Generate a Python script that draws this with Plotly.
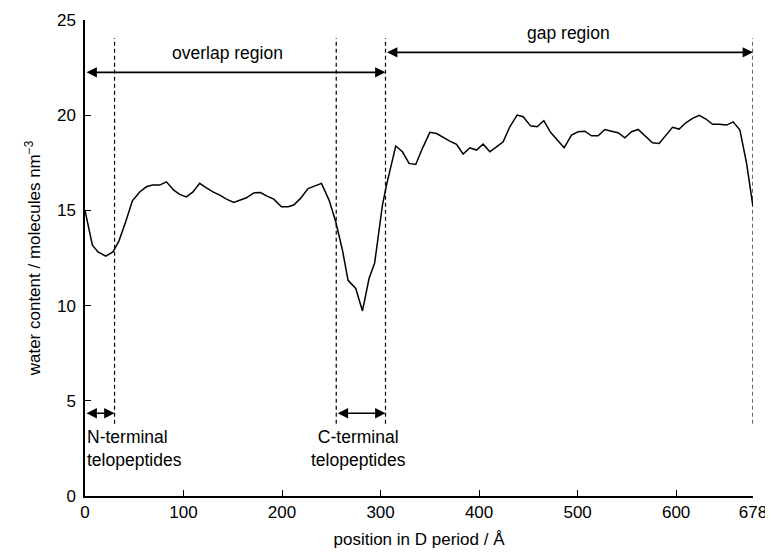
import plotly.graph_objects as go

# Water content profile along the D period
position = [0.0, 7.5, 13.2, 21.0, 28.4, 34.5, 41.3, 48.1, 55.5, 62.3, 68.4, 75.8, 82.6, 90.1,
            96.1, 102.9, 109.6, 116.4, 123.2, 129.9, 136.8, 143.6, 151.0, 157.1, 163.9, 171.3,
            178.1, 184.8, 191.6, 199.4, 206.1, 211.9, 218.7, 226.4, 233.2, 240.0, 247.7, 254.5,
            261.3, 267.0, 274.8, 281.6, 288.3, 294.0, 301.9, 306.0, 315.4, 322.2, 328.9, 335.7,
            342.5, 350.0, 356.8, 363.5, 370.3, 377.1, 383.8, 390.6, 397.4, 404.1, 410.9, 417.7,
            424.4, 431.2, 438.6, 444.7, 452.2, 458.9, 465.7, 472.5, 479.6, 486.3, 493.8, 500.5,
            507.3, 514.1, 520.8, 527.6, 534.4, 541.1, 547.9, 554.7, 561.4, 568.2, 576.0, 582.7,
            589.5, 596.3, 603.0, 609.8, 616.6, 623.4, 630.2, 637.0, 643.7, 651.2, 657.9, 664.7,
            671.5, 678.0]
water = [15.0, 13.17, 12.82, 12.60, 12.82, 13.40, 14.40, 15.50, 15.97, 16.24, 16.33, 16.33, 16.50,
         16.06, 15.84, 15.71, 15.97, 16.42, 16.18, 15.97, 15.80, 15.59, 15.42, 15.54, 15.66, 15.92,
         15.94, 15.75, 15.59, 15.19, 15.19, 15.28, 15.63, 16.15, 16.27, 16.42, 15.54, 14.40, 12.91,
         11.33, 10.90, 9.72, 11.42, 12.24, 15.28, 16.33, 18.38, 18.08, 17.47, 17.41, 18.26, 19.10,
         19.04, 18.83, 18.64, 18.47, 17.96, 18.29, 18.17, 18.48, 18.08, 18.34, 18.60, 19.39, 20.01,
         19.92, 19.44, 19.39, 19.71, 19.10, 18.69, 18.29, 18.95, 19.13, 19.16, 18.92, 18.92, 19.25,
         19.16, 19.08, 18.81, 19.13, 19.25, 18.90, 18.55, 18.52, 18.95, 19.36, 19.27, 19.60, 19.83,
         19.99, 19.80, 19.52, 19.53, 19.48, 19.65, 19.22, 17.47, 15.2]

# Region boundaries (Å)
boundaries = [30, 255, 305, 678]
boundary_bottom = 3.8
boundary_top = 24.05

x_ticks = [0, 100, 200, 300, 400, 500, 600, 678]
x_tick_labels = ["0", "100", "200", "300", "400", "500", "600", "678"]
y_ticks = [0, 5, 10, 15, 20, 25]

# Region arrows: (start, end, level)
overlap_arrow = (0, 305, 22.25)
gap_arrow = (305, 678, 23.3)
n_term_arrow = (0, 30, 4.35)
c_term_arrow = (255, 305, 4.35)

FONT = "Liberation Sans, Arial, sans-serif"

fig = go.Figure()
fig.add_trace(go.Scatter(x=position, y=water, mode="lines",
                         line=dict(color="black", width=1.5),
                         showlegend=False, hoverinfo="skip", cliponaxis=False))

for b in boundaries:
    fig.add_shape(type="line", xref="x", yref="y", x0=b, x1=b,
                  y0=boundary_bottom, y1=boundary_top,
                  line=dict(color="black", width=1.2, dash="4px,3px"))

def double_arrow(a):
    x0, x1, yv = a
    fig.add_annotation(x=x1, y=yv, ax=x0, ay=yv, xref="x", yref="y",
                       axref="x", ayref="y", text="", showarrow=True,
                       arrowhead=2, startarrowhead=2, arrowside="end+start",
                       arrowsize=1.3, startarrowsize=1.3, arrowwidth=1.6,
                       arrowcolor="black", standoff=0, startstandoff=0)

for a in (overlap_arrow, gap_arrow, n_term_arrow, c_term_arrow):
    double_arrow(a)

txt = dict(family=FONT, size=17.5, color="black")
fig.add_annotation(x=145, y=23.25, xref="x", yref="y", text="overlap region",
                   showarrow=False, font=txt)
fig.add_annotation(x=491, y=24.3, xref="x", yref="y", text="gap region",
                   showarrow=False, font=txt)
fig.add_annotation(x=0.5, y=2.5, xref="x", yref="y", text="N-terminal<br>telopeptides",
                   showarrow=False, font=txt, xanchor="left", align="left")
fig.add_annotation(x=278, y=2.5, xref="x", yref="y", text="C-terminal<br>telopeptides",
                   showarrow=False, font=txt, xanchor="center", align="center")

# The page body has an 8px default margin, so the figure is sized/offset to
# leave the plot area where it sits in the 773x553 view.
fig.update_layout(
    width=765, height=545,
    margin=dict(l=77, r=20, t=12, b=57),
    paper_bgcolor="white", plot_bgcolor="white",
    font=dict(family=FONT, size=17, color="black"),
    showlegend=False,
)
fig.update_xaxes(range=[0, 678], tickvals=x_ticks, ticktext=x_tick_labels,
                 ticks="inside", ticklen=6, tickwidth=1.2, tickcolor="black",
                 showline=True, linecolor="black", linewidth=1.5,
                 showgrid=False, zeroline=False, automargin=False,
                 title=dict(text="position in D period / Å", standoff=12,
                            font=dict(family=FONT, size=17)))
fig.update_yaxes(range=[0, 25], tickvals=y_ticks,
                 ticks="inside", ticklen=6, tickwidth=1.2, tickcolor="black",
                 ticklabelstandoff=4,
                 showline=True, linecolor="black", linewidth=1.5,
                 showgrid=False, zeroline=False, automargin=False,
                 title=dict(text="water content / molecules nm<sup>−3</sup>", standoff=12,
                            font=dict(family=FONT, size=17)))

fig.write_html("out.html")
